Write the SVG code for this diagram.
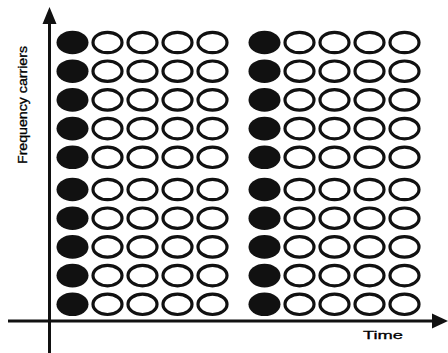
<svg xmlns="http://www.w3.org/2000/svg" width="448" height="353" viewBox="0 0 448 353">
<style>
.f{fill:#111;stroke:none}
.h{fill:#fff;stroke:#111;stroke-width:3.2}
.ax{stroke:#111;stroke-width:3;fill:none}
.ah{fill:#111}
.t{font-family:"Liberation Sans",Arial,sans-serif;fill:#000;stroke:#000;stroke-width:0.3}
</style>
<defs>
<g id="row">
<ellipse class="f" cx="0" cy="0" rx="16" ry="11.8"/>
<ellipse class="h" cx="35" cy="0" rx="14.5" ry="10.2"/>
<ellipse class="h" cx="70" cy="0" rx="14.5" ry="10.2"/>
<ellipse class="h" cx="105" cy="0" rx="14.5" ry="10.2"/>
<ellipse class="h" cx="140" cy="0" rx="14.5" ry="10.2"/>
</g>
</defs>
<rect width="448" height="353" fill="#fff"/>
<g id="connectors">
<line class="ax" x1="49.5" y1="20" x2="49.5" y2="353"/>
<polygon class="ah" points="49.5,7 42.5,24 56.5,24"/>
<line class="ax" x1="8" y1="321" x2="436" y2="321"/>
<polygon class="ah" points="448,321 432,313.5 432,328.5"/>
</g>
<g id="block-top-left">
<use href="#row" x="72.5" y="42.5"/>
<use href="#row" x="72.5" y="71.2"/>
<use href="#row" x="72.5" y="99.9"/>
<use href="#row" x="72.5" y="128.6"/>
<use href="#row" x="72.5" y="157.3"/>
</g>
<g id="block-top-right">
<use href="#row" x="264.5" y="42.5"/>
<use href="#row" x="264.5" y="71.2"/>
<use href="#row" x="264.5" y="99.9"/>
<use href="#row" x="264.5" y="128.6"/>
<use href="#row" x="264.5" y="157.3"/>
</g>
<g id="block-bottom-left">
<use href="#row" x="72.5" y="189.5"/>
<use href="#row" x="72.5" y="218.2"/>
<use href="#row" x="72.5" y="246.9"/>
<use href="#row" x="72.5" y="275.6"/>
<use href="#row" x="72.5" y="304.3"/>
</g>
<g id="block-bottom-right">
<use href="#row" x="264.5" y="189.5"/>
<use href="#row" x="264.5" y="218.2"/>
<use href="#row" x="264.5" y="246.9"/>
<use href="#row" x="264.5" y="275.6"/>
<use href="#row" x="264.5" y="304.3"/>
</g>
<g id="label-y">
<text class="t" transform="translate(26.5,105) rotate(-90)" text-anchor="middle" font-size="12" textLength="118" lengthAdjust="spacingAndGlyphs">Frequency carriers</text>
</g>
<g id="label-x">
<text class="t" x="363" y="338.5" font-size="11.5" textLength="40" lengthAdjust="spacingAndGlyphs">Time</text>
</g>
</svg>
